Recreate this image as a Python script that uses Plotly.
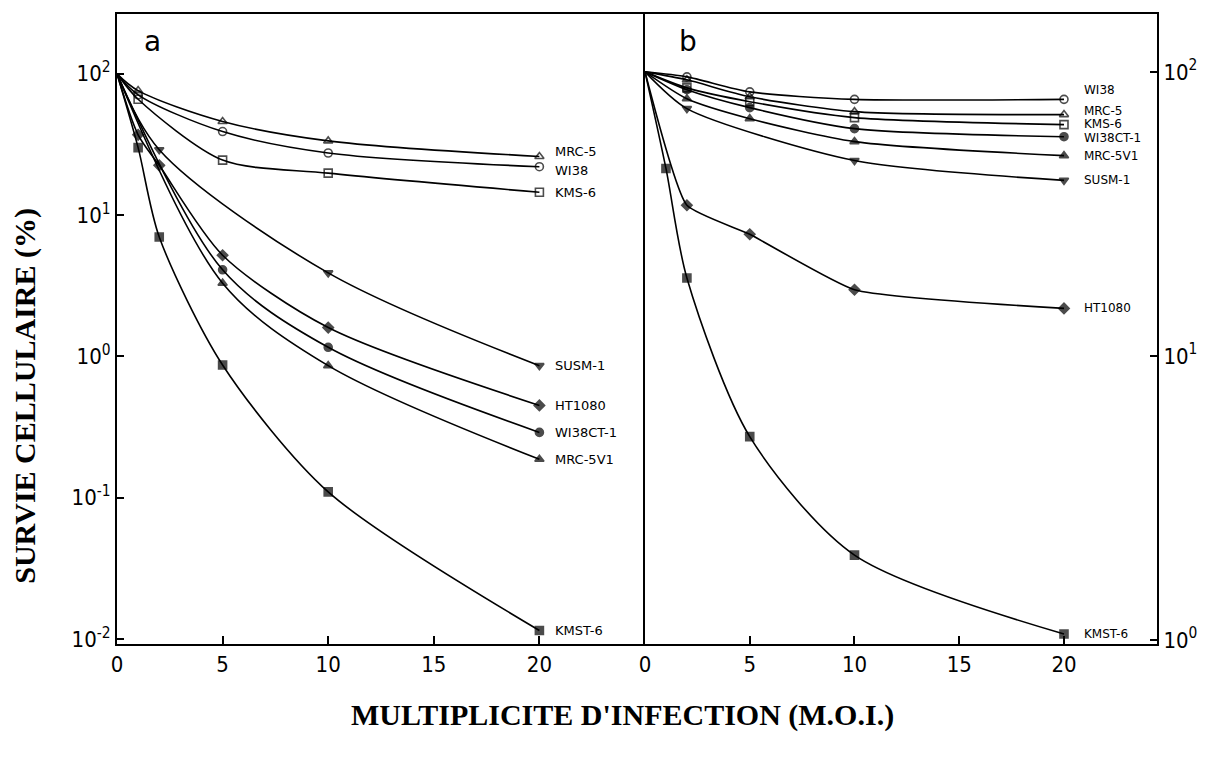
import numpy as np
import plotly.graph_objects as go

# ---------------- data : panel a ----------------
a_x_mrc5 = [0, 1, 5, 10, 20]
a_y_mrc5 = [100, 76, 46, 33.5, 26]
a_x_wi38 = [0, 1, 5, 10, 20]
a_y_wi38 = [100, 71, 39, 27.5, 22]
a_x_kms6 = [0, 1, 5, 10, 20]
a_y_kms6 = [100, 66, 24.5, 19.8, 14.5]
a_x_susm1 = [0, 2, 10, 20]
a_y_susm1 = [100, 29, 3.9, 0.86]
a_x_ht1080 = [0, 1, 2, 5, 10, 20]
a_y_ht1080 = [100, 37, 22.5, 5.2, 1.6, 0.45]
a_x_wi38ct1 = [0, 5, 10, 20]
a_y_wi38ct1 = [100, 4.1, 1.16, 0.29]
a_x_mrc5v1 = [0, 5, 10, 20]
a_y_mrc5v1 = [100, 3.3, 0.86, 0.187]
a_x_kmst6 = [0, 1, 2, 5, 10, 20]
a_y_kmst6 = [100, 30, 7.0, 0.87, 0.11, 0.0115]

# ---------------- data : panel b ----------------
b_x_wi38 = [0, 2, 5, 10, 20]
b_y_wi38 = [100, 96, 85, 80, 80]
b_x_mrc5 = [0, 2, 5, 10, 20]
b_y_mrc5 = [100, 93.7, 81.7, 72.4, 70.7]
b_x_kms6 = [0, 2, 5, 10, 20]
b_y_kms6 = [100, 87.8, 78.5, 69, 65.2]
b_x_wi38ct1 = [0, 2, 5, 10, 20]
b_y_wi38ct1 = [100, 86.5, 74.8, 63.1, 59.1]
b_x_mrc5v1 = [0, 2, 5, 10, 20]
b_y_mrc5v1 = [100, 80.4, 68.4, 56.8, 50.7]
b_x_susm1 = [0, 2, 10, 20]
b_y_susm1 = [100, 74.2, 48.7, 41.5]
b_x_ht1080 = [0, 2, 5, 10, 20]
b_y_ht1080 = [100, 33.9, 26.8, 17.1, 14.7]
b_x_kmst6 = [0, 1, 2, 5, 10, 20]
b_y_kmst6 = [100, 45.7, 18.8, 5.2, 1.99, 1.05]

x_ticks = [0, 5, 10, 15, 20]
ya_ticks = [0.01, 0.1, 1, 10, 100]
ya_text = ["10<sup>-2</sup>", "10<sup>-1</sup>", "10<sup>0</sup>", "10<sup>1</sup>", "10<sup>2</sup>"]
yb_ticks = [1, 10, 100]
yb_text = ["10<sup>0</sup>", "10<sup>1</sup>", "10<sup>2</sup>"]

# (label, x, y, marker symbol, label y-shift in px, spline smoothing)
series_a = [
    ("MRC-5", a_x_mrc5, a_y_mrc5, "triangle-up-open", 5, 0.9),
    ("WI38", a_x_wi38, a_y_wi38, "circle-open", -4, 0.9),
    ("KMS-6", a_x_kms6, a_y_kms6, "square-open", 0, 0.8),
    ("SUSM-1", a_x_susm1, a_y_susm1, "triangle-down", 0, 0.9),
    ("HT1080", a_x_ht1080, a_y_ht1080, "diamond", 0, 0.8),
    ("WI38CT-1", a_x_wi38ct1, a_y_wi38ct1, "circle", 0, 0.9),
    ("MRC-5V1", a_x_mrc5v1, a_y_mrc5v1, "triangle-up", 0, 0.9),
    ("KMST-6", a_x_kmst6, a_y_kmst6, "square", 0, 0.8),
]
series_b = [
    ("WI38", b_x_wi38, b_y_wi38, "circle-open", 9, 0.7),
    ("MRC-5", b_x_mrc5, b_y_mrc5, "triangle-up-open", 4, 0.7),
    ("KMS-6", b_x_kms6, b_y_kms6, "square-open", 1, 0.7),
    ("WI38CT-1", b_x_wi38ct1, b_y_wi38ct1, "circle", -1, 0.7),
    ("MRC-5V1", b_x_mrc5v1, b_y_mrc5v1, "triangle-up", 0, 0.7),
    ("SUSM-1", b_x_susm1, b_y_susm1, "triangle-down", 0, 0.7),
    ("HT1080", b_x_ht1080, b_y_ht1080, "diamond", 0, 0.45),
    ("KMST-6", b_x_kmst6, b_y_kmst6, "square", 0, 0.8),
]

fig = go.Figure()


def add_series(series, xa, ya, xshift, fsize):
    for name, xs, ys, sym, yshift, smooth in series:
        sizes = [0] + [8] * (len(xs) - 1)
        fig.add_trace(go.Scatter(
            x=xs, y=ys, xaxis=xa, yaxis=ya, name=name,
            mode="lines+markers",
            line=dict(color="black", width=1.6, shape="spline", smoothing=smooth),
            marker=dict(symbol=sym, size=sizes, color="black",
                        line=dict(color="black", width=1.6)),
            showlegend=False, hoverinfo="skip",
        ))
        fig.add_annotation(
            x=xs[-1], y=np.log10(ys[-1]), xref=xa, yref=ya,
            text=name, showarrow=False, xanchor="left", yanchor="middle",
            xshift=xshift, yshift=yshift,
            font=dict(family="DejaVu Sans", size=fsize, color="black"),
        )


add_series(series_a, "x", "y", 14, 13)
add_series(series_b, "x2", "y2", 18, 12)

tick_font = dict(family="Liberation Sans Narrow, DejaVu Sans Condensed, DejaVu Sans", size=22, color="black")
split = 528 / 1040

common_x = dict(showline=True, linecolor="black", linewidth=2, mirror=True,
                ticks="inside", ticklen=8, tickwidth=2, tickcolor="black",
                tickvals=x_ticks, showgrid=False, zeroline=False,
                tickfont=tick_font)

fig.update_layout(
    width=1209, height=759,
    margin=dict(l=117, r=52, t=12, b=115),
    paper_bgcolor="white", plot_bgcolor="white",
    xaxis=dict(domain=[0, split], range=[0, 25], anchor="y", **common_x),
    xaxis2=dict(domain=[split, 1], range=[0, 24.44], anchor="y2", **common_x),
    yaxis=dict(type="log", range=[-2.035, 2.423], anchor="x",
               showline=True, linecolor="black", linewidth=2, mirror=False,
               ticks="inside", ticklen=7, tickwidth=2, tickcolor="black",
               tickvals=ya_ticks, ticktext=ya_text, showgrid=False,
               tickfont=tick_font),
    yaxis2=dict(type="log", range=[-0.014, 2.2035], anchor="x2", side="right",
                showline=True, linecolor="black", linewidth=2, mirror=True,
                ticks="inside", ticklen=7, tickwidth=2, tickcolor="black",
                tickvals=yb_ticks, ticktext=yb_text, showgrid=False,
                tickfont=tick_font),
)

fig.add_annotation(x=1.7, y=0.956, xref="x", yref="paper", text="a",
                   xanchor="center", yanchor="middle",
                   showarrow=False, font=dict(family="DejaVu Sans", size=28, color="black"))
fig.add_annotation(x=2.05, y=0.956, xref="x2", yref="paper", text="b",
                   xanchor="center", yanchor="middle",
                   showarrow=False, font=dict(family="DejaVu Sans", size=28, color="black"))

fig.add_annotation(x=-0.0885, y=0.394, xref="paper", yref="paper",
                   xanchor="center", yanchor="middle",
                   text="<b>SURVIE CELLULAIRE (%)</b>", textangle=-90, showarrow=False,
                   font=dict(family="Liberation Serif", size=30, color="black"))
fig.add_annotation(x=0.4856, y=-0.1123, xref="paper", yref="paper",
                   xanchor="center", yanchor="middle",
                   text="<b>MULTIPLICITE D'INFECTION (M.O.I.)</b>", showarrow=False,
                   font=dict(family="Liberation Serif", size=30, color="black"))

fig.write_html("out.html")
